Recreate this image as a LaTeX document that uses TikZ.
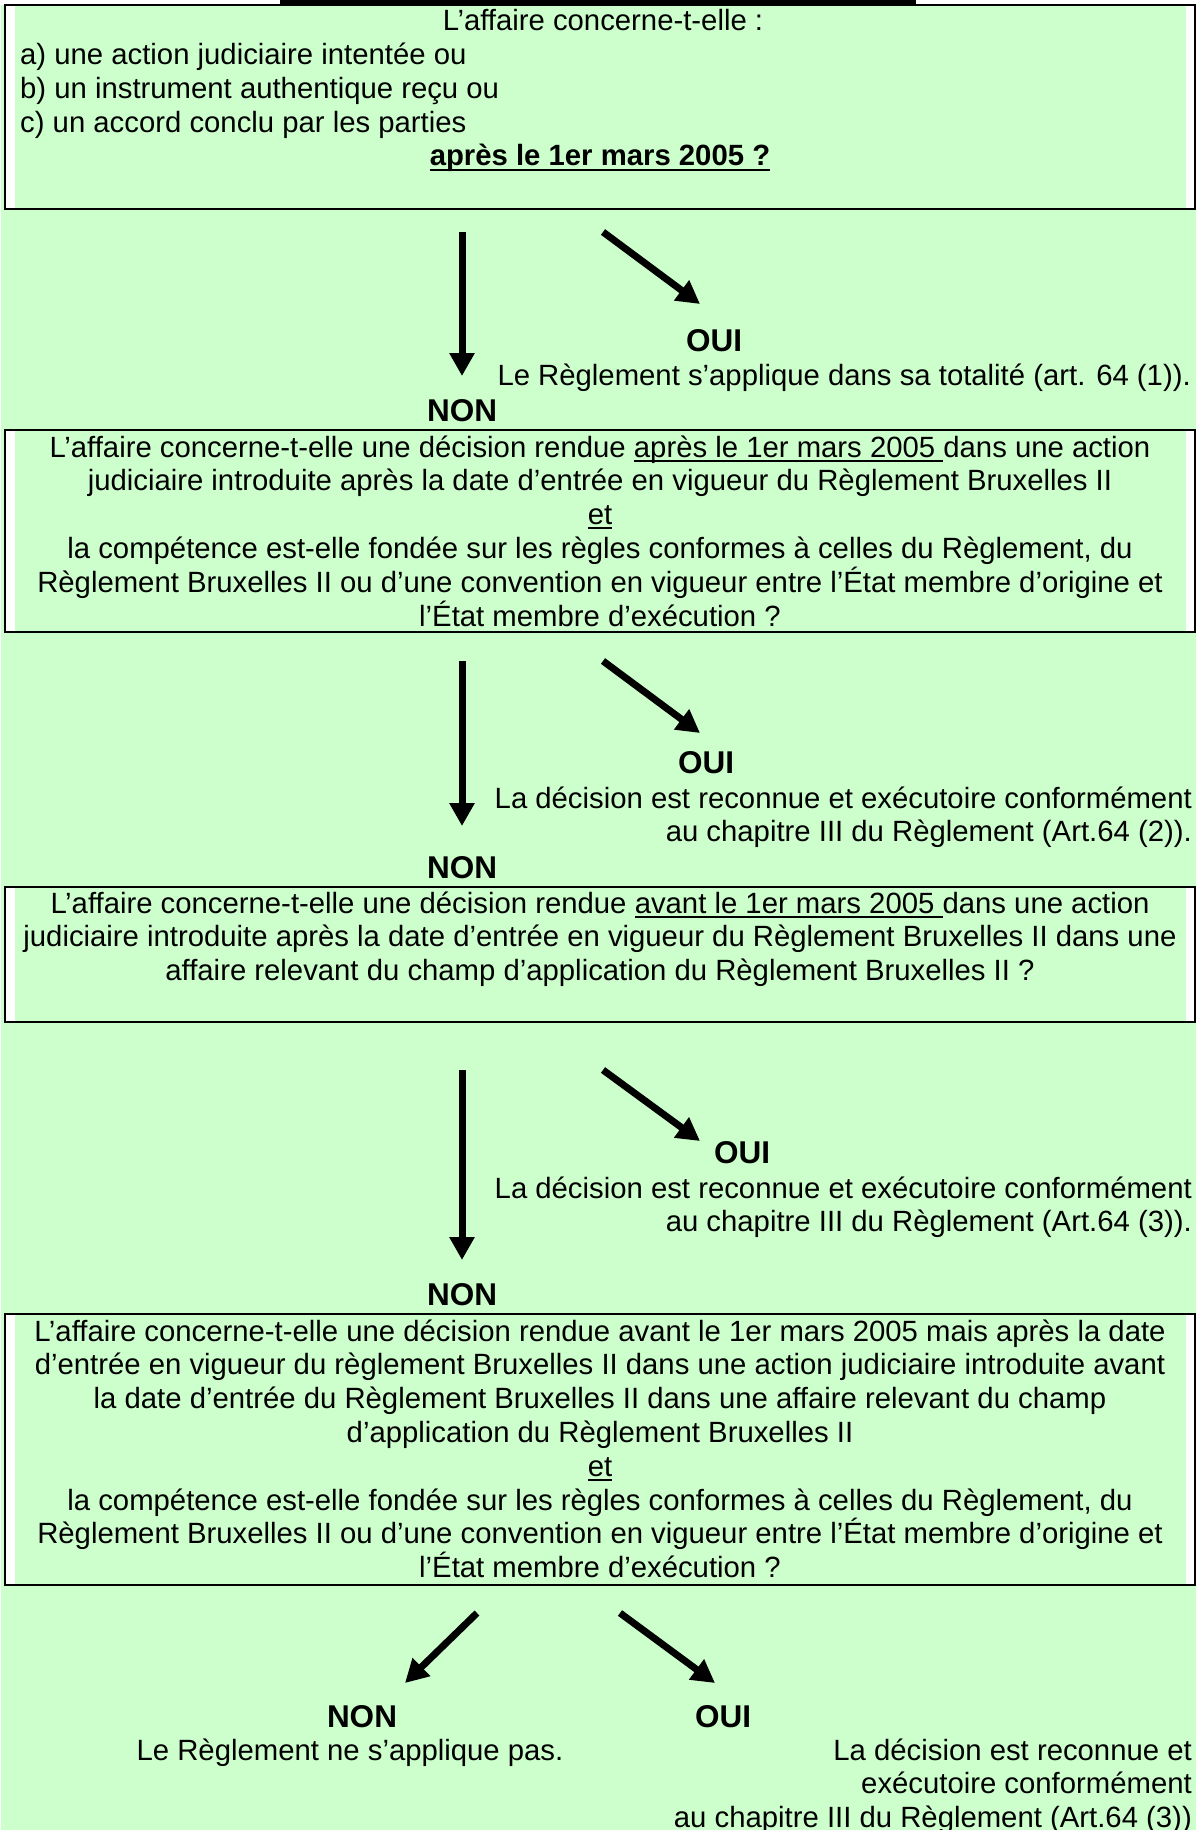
\documentclass[tikz,border=0pt]{standalone}
\usepackage{fontspec}
\setmainfont{Liberation Sans}
\usetikzlibrary{arrows.meta}
\definecolor{palegreen}{HTML}{CCFFCC}
\newsavebox{\ulinbox}
\newcommand{\ulin}[1]{\leavevmode\sbox{\ulinbox}{#1}%
  \rlap{\vrule height -2.6pt depth 4.6pt width \wd\ulinbox}\usebox{\ulinbox}}
\tikzset{
  txt/.style={inner sep=0pt, font=\fontsize{29.3}{33.8}\selectfont},
  multi/.style={txt, align=center},
  answer/.style={inner sep=0pt, font=\fontsize{31.5}{33.8}\selectfont\bfseries},
  frame/.style={draw=black, line width=2pt},
  bigarrow/.style={line width=7pt, -{Triangle[length=23pt,width=24pt]}}
}
\begin{document}
\begin{tikzpicture}[x=1pt,y=-1pt]
  \useasboundingbox (0,0) rectangle (1196,1830);
  %draw background
  \fill[white] (0,0) rectangle (1196,1830);
  \fill[palegreen] (1,5) rectangle (1196,1830);
  \fill[black] (280,0) rectangle (916,4);

  %draw boxes
  \foreach \ya/\yb in {5/209, 430/632, 887/1022, 1314/1585} {
    \fill[white] (5,\ya) rectangle (1195,\yb);
    \fill[palegreen] (15,\ya) rectangle (1186,\yb);
    \draw[frame] (5,\ya) rectangle (1195,\yb);
  }

  %draw first question (base = last line)
  \node[txt, anchor=base] (title) at (603,31) {L’affaire concerne-t-elle :};
  \node[txt, anchor=base west, align=left] (items) at (20,132.6)
    {a) une action judiciaire intentée ou\\
     b) un instrument authentique reçu ou\\
     c) un accord conclu par les parties};
  \node[txt, font=\fontsize{29.3}{33.8}\selectfont\bfseries, anchor=base] (date) at (600,166)
    {\ulin{après le 1er mars 2005 ?}};

  %draw other questions
  \node[multi, anchor=base] (q2) at (600,626)
    {L’affaire concerne-t-elle une décision rendue \ulin{après le 1er mars 2005\ }dans une action\\
     judiciaire introduite après la date d’entrée en vigueur du Règlement Bruxelles II\\
     \ulin{et}\\
     la compétence est-elle fondée sur les règles conformes à celles du Règlement, du\\
     Règlement Bruxelles II ou d’une convention en vigueur entre l’État membre d’origine et\\
     l’État membre d’exécution ?};
  \node[multi, anchor=base] (q3) at (600,980.6)
    {L’affaire concerne-t-elle une décision rendue \ulin{avant le 1er mars 2005\ }dans une action\\
     judiciaire introduite après la date d’entrée en vigueur du Règlement Bruxelles II dans une\\
     affaire relevant du champ d’application du Règlement Bruxelles II ?};
  \node[multi, anchor=base] (q4) at (600,1577.6)
    {L’affaire concerne-t-elle une décision rendue avant le 1er mars 2005 mais après la date\\
     d’entrée en vigueur du règlement Bruxelles II dans une action judiciaire introduite avant\\
     la date d’entrée du Règlement Bruxelles II dans une affaire relevant du champ\\
     d’application du Règlement Bruxelles II\\
     \ulin{et}\\
     la compétence est-elle fondée sur les règles conformes à celles du Règlement, du\\
     Règlement Bruxelles II ou d’une convention en vigueur entre l’État membre d’origine et\\
     l’État membre d’exécution ?};

  %draw answers
  \node[answer, anchor=base] (oui1) at (714,351) {OUI};
  \node[txt, anchor=base east] (res1) at (1191,385) {Le Règlement s’applique dans sa totalité (art. 64 (1)).};
  \node[answer, anchor=base] (non1) at (462,421) {NON};
  \node[answer, anchor=base] (oui2) at (706,773) {OUI};
  \node[txt, anchor=base east, align=right] (res2) at (1192,841.8)
    {La décision est reconnue et exécutoire conformément\\ au chapitre III du Règlement (Art.64 (2)).};
  \node[answer, anchor=base] (non2) at (462,878) {NON};
  \node[answer, anchor=base] (oui3) at (742,1163) {OUI};
  \node[txt, anchor=base east, align=right] (res3) at (1192,1231.8)
    {La décision est reconnue et exécutoire conformément\\ au chapitre III du Règlement (Art.64 (3)).};
  \node[answer, anchor=base] (non3) at (462,1305) {NON};
  \node[answer, anchor=base] (non4) at (362,1727) {NON};
  \node[answer, anchor=base] (oui4) at (723,1727) {OUI};
  \node[txt, anchor=base] (none) at (350,1760) {Le Règlement ne s’applique pas.};
  \node[txt, anchor=base east, align=right] (res4) at (1192,1827.6)
    {La décision est reconnue et\\ exécutoire conformément\\ au chapitre III du Règlement (Art.64 (3))};

  %draw arrow ends
  \coordinate (down1) at (462,232);   \coordinate (down1e) at (462,376);
  \coordinate (side1) at (603,232);   \coordinate (side1e) at (700,304);
  \coordinate (down2) at (462,661);   \coordinate (down2e) at (462,826);
  \coordinate (side2) at (603,661);   \coordinate (side2e) at (700,733);
  \coordinate (down3) at (462,1070);  \coordinate (down3e) at (462,1260);
  \coordinate (side3) at (603,1070);  \coordinate (side3e) at (700,1141);
  \coordinate (left4) at (477,1613);  \coordinate (left4e) at (405,1683);
  \coordinate (right4) at (620,1613); \coordinate (right4e) at (715,1683);

  %draw arrows
  \foreach \a in {down1,side1,down2,side2,down3,side3,left4,right4}
     \draw[bigarrow] (\a) -- (\a e);
\end{tikzpicture}
\end{document}
